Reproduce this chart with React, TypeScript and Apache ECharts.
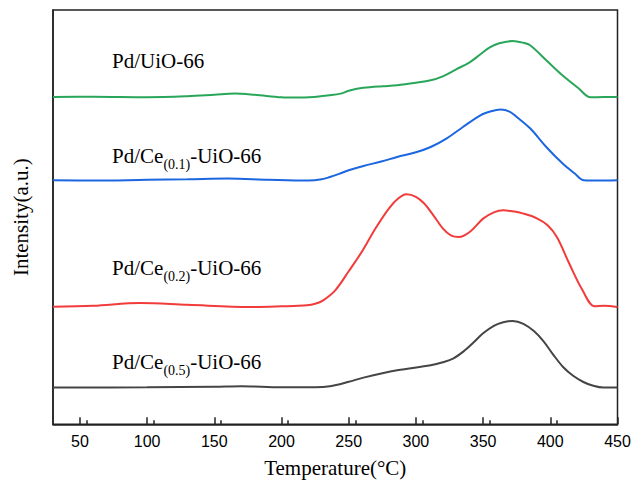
import React, { useEffect, useRef } from "react";
import * as echarts from "echarts";

// Temperature (°C) / intensity (a.u., curves stacked with offsets)
const greenT = [30, 60, 100, 130, 150, 165, 180, 200, 210, 224, 236, 244, 250, 256, 261, 275, 286, 300, 311, 320, 330, 340, 348, 355, 362, 372, 380, 385, 397, 409, 421, 430, 440, 450];
const greenI = [327.3, 327.5, 327, 328, 329.5, 330.7, 329.5, 327, 326.7, 327.3, 329, 330.7, 333.5, 335.5, 336.5, 338, 339, 341.5, 344, 348, 355, 362, 370, 377, 381, 383.3, 381.5, 379, 364, 349, 336, 327, 327.3, 327.3];

const blueT = [30, 60, 100, 130, 160, 190, 220, 230, 236, 244, 250, 261, 275, 286, 300, 311, 323, 335, 348, 356, 363, 370, 375, 385, 397, 409, 418, 425, 435, 450];
const blueI = [244, 243.7, 244.5, 245, 245.7, 244.5, 243.7, 245, 247.3, 251, 254, 258.3, 263, 267.3, 272, 277.3, 286, 297.3, 309, 313, 314.7, 312.5, 307.3, 296, 277.3, 261, 251, 244, 243.7, 244];

const redT = [30, 60, 95, 130, 177, 200, 219, 225, 231, 240, 250, 260, 270, 280, 287, 293, 300, 306, 313, 320, 326, 332, 340, 350, 358, 365, 372, 380, 390, 398, 405, 414, 424, 433, 440, 450];
const redI = [117.5, 118.5, 121.3, 119.5, 117.3, 118, 119, 120.5, 124, 134, 153, 173, 196, 216, 226, 230, 227.5, 221, 209, 196, 189, 187.3, 192.3, 205.7, 212, 214, 213, 210.7, 206, 199, 187, 161, 134, 118, 118.5, 117.3];

const blackT = [30, 100, 150, 170, 200, 225, 236, 250, 261, 286, 311, 320, 328, 336, 343, 350, 358, 365, 372, 380, 388, 395, 402, 409.5, 417, 424.6, 432, 439.5, 450];
const blackI = [36.7, 37, 37.5, 38, 37, 37, 38, 42.5, 46.7, 54, 59, 62, 66, 73.5, 82, 91, 98.5, 102, 103.3, 100.5, 93, 83, 70, 57.3, 48.5, 42.3, 38.5, 36.7, 36.7];

const xTicks = [50, 100, 150, 200, 250, 300, 350, 400, 450];

const SERIF = "'Liberation Serif', 'Times New Roman', serif";
const SANS = "'Liberation Sans', Arial, sans-serif";

const zip = (a: number[], b: number[]) => a.map((v, i) => [v, b[i]]);

function label(x: number, y: number, main: string, sub: string | null, rest: string) {
  const children: any[] = [
    { type: "text", x: 0, y: 0, style: { text: main, font: `21px ${SERIF}`, fill: "#000", textVerticalAlign: "middle" } },
  ];
  if (sub) {
    children.push({ type: "text", x: 51.4, y: 8, style: { text: sub, font: `14px ${SERIF}`, fill: "#000", textVerticalAlign: "middle" } });
    children.push({ type: "text", x: 51.4 + 26.8, y: 0, style: { text: rest, font: `21px ${SERIF}`, fill: "#000", textVerticalAlign: "middle" } });
  }
  return { type: "group", x, y, children };
}

export default function App() {
  const ref = useRef<HTMLDivElement>(null);
  useEffect(() => {
    document.body.style.margin = "0";
    const chart = echarts.init(ref.current!, null, { renderer: "svg" });
    const mk = (name: string, t: number[], v: number[], color: string) => ({
      name,
      type: "line",
      data: zip(t, v),
      showSymbol: false,
      smooth: 0.35,
      lineStyle: { color, width: 2 },
      itemStyle: { color },
    });
    chart.setOption({
      animation: false,
      backgroundColor: "#fff",
      grid: { left: 53, right: 16.5, top: 10, bottom: 63.7, show: true, borderColor: "#222", borderWidth: 1.5, backgroundColor: "transparent" },
      xAxis: {
        type: "value",
        min: 30,
        max: 450,
        interval: 50,
        customValues: xTicks,
        name: "Temperature(°C)",
        nameLocation: "middle",
        nameGap: 33,
        nameTextStyle: { fontFamily: SERIF, fontSize: 21, color: "#000" },
        axisLine: { show: true, lineStyle: { color: "#222", width: 1.5 } },
        axisTick: { show: true, inside: true, length: 7, lineStyle: { color: "#222", width: 1.5 }, customValues: xTicks },
        minorTick: { show: true, splitNumber: 2, length: 4, lineStyle: { color: "#222", width: 1.5 } },
        axisLabel: { fontFamily: SANS, fontSize: 16, color: "#000", margin: 9, customValues: xTicks },
        splitLine: { show: false },
      },
      yAxis: {
        type: "value",
        min: 0,
        max: 414.3,
        name: "Intensity(a.u.)",
        nameLocation: "middle",
        nameGap: 22,
        nameTextStyle: { fontFamily: SERIF, fontSize: 21, color: "#000" },
        axisLine: { show: true, lineStyle: { color: "#222", width: 1.5 } },
        axisTick: { show: false },
        axisLabel: { show: false },
        splitLine: { show: false },
      },
      series: [
        mk("Pd/UiO-66", greenT, greenI, "#2aa65a"),
        mk("Pd/Ce(0.1)-UiO-66", blueT, blueI, "#1c66e0"),
        mk("Pd/Ce(0.2)-UiO-66", redT, redI, "#f23b3b"),
        mk("Pd/Ce(0.5)-UiO-66", blackT, blackI, "#454545"),
      ],
      graphic: [
        label(112, 61, "Pd/UiO-66", null, ""),
        label(112, 156, "Pd/Ce", "(0.1)", "-UiO-66"),
        label(112, 268, "Pd/Ce", "(0.2)", "-UiO-66"),
        label(112, 362, "Pd/Ce", "(0.5)", "-UiO-66"),
      ],
    });
    return () => chart.dispose();
  }, []);
  return <div ref={ref} style={{ width: 634, height: 488 }} />;
}
